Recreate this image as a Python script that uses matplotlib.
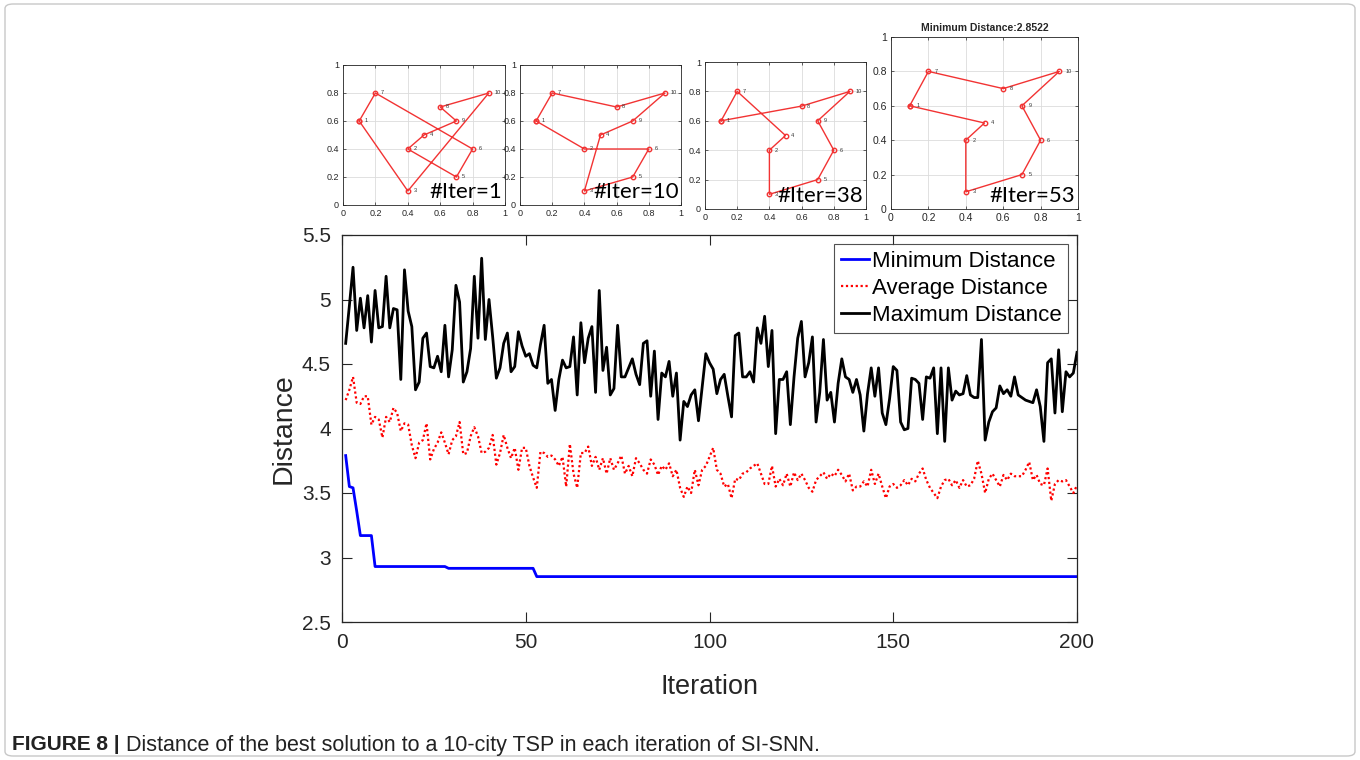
import matplotlib
matplotlib.use("Agg")
import matplotlib.pyplot as plt
from matplotlib.patches import FancyBboxPatch
import numpy as np

# ---------------- data ----------------
iterations = list(range(1, 201))

min_distance = ([3.79, 3.55, 3.54, 3.36, 3.17, 3.17, 3.17, 3.17] +
                [2.93] * 20 + [2.916] * 24 + [2.852] * 148)

avg_distance = [
    4.22, 4.30, 4.40, 4.20, 4.19, 4.25, 4.25, 4.03, 4.09, 4.07,
    3.93, 4.09, 4.05, 4.16, 4.12, 3.98, 4.04, 4.03, 3.87, 3.77,
    3.89, 3.91, 4.04, 3.76, 3.84, 3.89, 3.97, 3.89, 3.80, 3.91,
    3.94, 4.05, 3.80, 3.81, 3.94, 4.01, 3.94, 3.81, 3.82, 3.85,
    3.95, 3.72, 3.81, 3.95, 3.85, 3.77, 3.85, 3.68, 3.85, 3.85,
    3.71, 3.62, 3.54, 3.82, 3.81, 3.78, 3.79, 3.76, 3.71, 3.78,
    3.55, 3.88, 3.65, 3.54, 3.81, 3.81, 3.86, 3.71, 3.78, 3.68,
    3.77, 3.65, 3.77, 3.68, 3.73, 3.79, 3.65, 3.71, 3.63, 3.77,
    3.73, 3.68, 3.65, 3.76, 3.72, 3.64, 3.71, 3.68, 3.73, 3.63,
    3.68, 3.54, 3.47, 3.55, 3.50, 3.68, 3.56, 3.68, 3.71, 3.78,
    3.85, 3.68, 3.65, 3.55, 3.57, 3.46, 3.61, 3.60, 3.65, 3.66,
    3.69, 3.71, 3.73, 3.65, 3.57, 3.57, 3.71, 3.55, 3.61, 3.56,
    3.65, 3.55, 3.66, 3.60, 3.65, 3.60, 3.54, 3.51, 3.60, 3.63,
    3.66, 3.61, 3.65, 3.63, 3.68, 3.64, 3.59, 3.65, 3.52, 3.55,
    3.55, 3.59, 3.55, 3.68, 3.57, 3.65, 3.55, 3.46, 3.55, 3.57,
    3.54, 3.56, 3.60, 3.56, 3.61, 3.59, 3.65, 3.69, 3.60, 3.54,
    3.50, 3.46, 3.55, 3.60, 3.61, 3.56, 3.60, 3.54, 3.60, 3.55,
    3.56, 3.61, 3.75, 3.65, 3.50, 3.61, 3.65, 3.60, 3.55, 3.64,
    3.60, 3.65, 3.63, 3.63, 3.63, 3.68, 3.74, 3.60, 3.64, 3.57,
    3.56, 3.69, 3.44, 3.57, 3.60, 3.59, 3.60, 3.55, 3.50, 3.56,
]

max_distance = [
    4.66, 4.95, 5.25, 4.76, 5.01, 4.78, 5.03, 4.67, 5.07, 4.78,
    4.79, 5.18, 4.78, 4.93, 4.92, 4.38, 5.23, 4.91, 4.79, 4.30,
    4.36, 4.70, 4.74, 4.48, 4.47, 4.56, 4.44, 4.80, 4.40, 4.61,
    5.11, 4.98, 4.36, 4.44, 4.62, 5.18, 4.70, 5.32, 4.69, 5.00,
    4.71, 4.39, 4.47, 4.66, 4.74, 4.44, 4.48, 4.75, 4.64, 4.56,
    4.58, 4.49, 4.47, 4.65, 4.80, 4.35, 4.38, 4.14, 4.38, 4.53,
    4.47, 4.48, 4.71, 4.26, 4.82, 4.51, 4.70, 4.79, 4.28, 5.07,
    4.45, 4.63, 4.26, 4.31, 4.80, 4.40, 4.40, 4.47, 4.54, 4.42,
    4.34, 4.66, 4.68, 4.25, 4.60, 4.07, 4.43, 4.40, 4.52, 4.25,
    4.43, 3.91, 4.21, 4.17, 4.26, 4.30, 4.06, 4.32, 4.58, 4.51,
    4.46, 4.27, 4.38, 4.42, 4.25, 4.09, 4.72, 4.74, 4.40, 4.40,
    4.44, 4.36, 4.78, 4.66, 4.87, 4.48, 4.76, 3.96, 4.38, 4.38,
    4.44, 4.03, 4.40, 4.70, 4.83, 4.40, 4.51, 4.71, 4.05, 4.28,
    4.69, 4.22, 4.28, 4.05, 4.35, 4.54, 4.40, 4.38, 4.28, 4.38,
    4.26, 3.98, 4.27, 4.47, 4.25, 4.47, 4.12, 4.03, 4.23, 4.48,
    4.45, 4.05, 3.99, 4.00, 4.39, 4.38, 4.35, 4.07, 4.40, 4.39,
    4.47, 3.96, 4.47, 3.90, 4.47, 4.22, 4.29, 4.26, 4.27, 4.41,
    4.26, 4.24, 4.24, 4.69, 3.91, 4.05, 4.13, 4.16, 4.33, 4.27,
    4.30, 4.25, 4.40, 4.26, 4.24, 4.22, 4.21, 4.20, 4.30, 4.17,
    3.90, 4.51, 4.54, 4.12, 4.61, 4.13, 4.44, 4.40, 4.43, 4.59,
]

series_labels = ["Minimum Distance", "Average Distance", "Maximum Distance"]
x_ticks = [0, 50, 100, 150, 200]
y_ticks = [2.5, 3, 3.5, 4, 4.5, 5, 5.5]
y_tick_labels = ["2.5", "3", "3.5", "4", "4.5", "5", "5.5"]

# 10 cities
city_ids = [1, 2, 3, 4, 5, 6, 7, 8, 9, 10]
city_x = [0.1, 0.4, 0.4, 0.5, 0.7, 0.8, 0.2, 0.6, 0.7, 0.9]
city_y = [0.6, 0.4, 0.1, 0.5, 0.2, 0.4, 0.8, 0.7, 0.6, 0.8]

tour_iter1 = [1, 3, 10, 8, 9, 4, 2, 5, 6, 7, 1]
tour_iter10 = [1, 7, 8, 10, 9, 4, 3, 5, 6, 2, 1]
tour_iter38 = [1, 7, 4, 2, 3, 5, 6, 9, 10, 8, 1]
tour_iter53 = [1, 7, 8, 10, 9, 6, 5, 3, 2, 4, 1]
tours = [tour_iter1, tour_iter10, tour_iter38, tour_iter53]
tour_labels = ["#Iter=1", "#Iter=10", "#Iter=38", "#Iter=53"]
inset_title = "Minimum Distance:2.8522"
inset_ticks = [0, 0.2, 0.4, 0.6, 0.8, 1]
inset_tick_labels = ["0", "0.2", "0.4", "0.6", "0.8", "1"]

caption_bold = "FIGURE 8 |"
caption_text = " Distance of the best solution to a 10-city TSP in each iteration of SI-SNN."

# ---------------- figure ----------------
W, H = 1360, 760
fig = plt.figure(figsize=(W / 100, H / 100), dpi=100)
plt.rcParams['font.family'] = ['Liberation Sans', 'DejaVu Sans']

def px_axes(x0, y0, x1, y1):
    return fig.add_axes([x0 / W, 1 - y1 / H, (x1 - x0) / W, (y1 - y0) / H])

# outer frame
frame = FancyBboxPatch((5 / W, 4 / H), 1350 / W, 752 / H,
                       boxstyle="round,pad=0,rounding_size=0.006",
                       transform=fig.transFigure, fill=False,
                       edgecolor="#c8c8c8", linewidth=1.0)
fig.patches.append(frame)

axis_col = "#262626"

# ---------------- main axes ----------------
ax = px_axes(342, 235, 1077, 622)
ax.plot(iterations, min_distance, color=(0, 0, 1), lw=2.0, label=series_labels[0])
ax.plot(iterations, avg_distance, color=(1, 0, 0), lw=1.6, ls=(0, (1, 1.2)),
        label=series_labels[1])
ax.plot(iterations, max_distance, color="black", lw=2.0, label=series_labels[2])
ax.set_xlim(0, 200)
ax.set_ylim(2.5, 5.5)
ax.set_xticks(x_ticks)
ax.set_yticks(y_ticks)
ax.set_yticklabels(y_tick_labels)
ax.tick_params(direction="in", top=True, right=True, length=7, width=0.8,
               labelsize=15, colors=axis_col, pad=8)
for s in ax.spines.values():
    s.set_color(axis_col)
    s.set_linewidth(0.9)
ax.set_xlabel("Iteration", fontsize=19.5, color=axis_col, labelpad=16)
ax.set_ylabel("Distance", fontsize=20.5, color=axis_col, labelpad=4)
leg = ax.legend(loc="upper right", fontsize=16, frameon=True, fancybox=False,
                edgecolor=axis_col, handlelength=1.3, handletextpad=0.1,
                borderpad=0.3, labelspacing=0.28, borderaxespad=0.4)
leg.get_frame().set_linewidth(0.8)

# ---------------- insets ----------------
inset_boxes = [(343, 65, 505, 205), (520, 65, 681, 205),
               (705, 62, 866, 209), (891, 37, 1078, 209)]
for k, (box, tour, lab) in enumerate(zip(inset_boxes, tours, tour_labels)):
    a = px_axes(*box)
    xs = [city_x[c - 1] for c in tour]
    ys = [city_y[c - 1] for c in tour]
    a.plot(xs, ys, color=(0.95, 0.2, 0.2), lw=1.0, marker="o", markersize=3.2,
           markerfacecolor="none", markeredgecolor=(0.95, 0.2, 0.2), mew=1.0)
    for cid, cx, cy in zip(city_ids, city_x, city_y):
        a.text(cx + 0.035, cy, str(cid), fontsize=4, va="center", ha="left",
               color="#333333")
    a.set_xlim(0, 1)
    a.set_ylim(0, 1)
    a.set_xticks(inset_ticks)
    a.set_yticks(inset_ticks)
    a.set_xticklabels(inset_tick_labels)
    a.set_yticklabels(inset_tick_labels)
    a.grid(True, color="#dcdcdc", lw=0.6)
    a.set_axisbelow(True)
    a.tick_params(direction="in", length=2, width=0.5, labelsize=6.5 if k < 3 else 7.5,
                  colors=axis_col, pad=3, top=True, right=True)
    for s in a.spines.values():
        s.set_color(axis_col)
        s.set_linewidth(0.6)
    a.text(0.985, 0.02, lab, transform=a.transAxes, ha="right", va="bottom",
           fontsize=16, family=["Lato", "DejaVu Sans"], color="black", zorder=10)
    if k == 3:
        a.set_title(inset_title, fontsize=7.5, fontweight="bold", pad=4,
                    color=axis_col)

# ---------------- caption ----------------
t1 = fig.text(12 / W, 1 - 745 / H, caption_bold, fontsize=15, fontweight="bold",
              va="center", ha="left", color="#222222")
fig.canvas.draw()
bb = t1.get_window_extent(renderer=fig.canvas.get_renderer())
fig.text(bb.x1 / W, 1 - 745 / H, caption_text, fontsize=15.5, va="center",
         ha="left", color="#222222")

fig.savefig("out.png", dpi=100)
